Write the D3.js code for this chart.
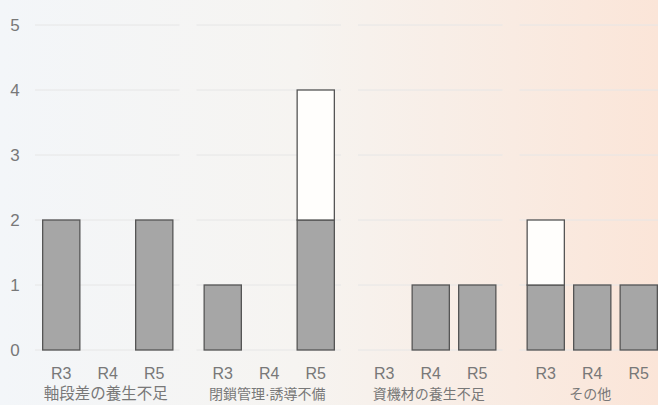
<!DOCTYPE html>
<html>
<head>
<meta charset="utf-8">
<script src="https://cdn.jsdelivr.net/npm/d3@7"></script>
<style>
    html, body { margin: 0; padding: 0; overflow: hidden; }
    text { font-family: "Liberation Sans", Arial, "Noto Sans CJK JP", sans-serif; fill: #787878; }
</style>
</head>
<body>
<svg id="chart" width="658" height="405"></svg>
<script>
// categories and years
const categories = ["軸段差の養生不足", "閉鎖管理·誘導不備", "資機材の養生不足", "その他"];
const years = ["R3", "R4", "R5"];
const yTicks = [0, 1, 2, 3, 4, 5];

// lower (gray) and upper (white) stacks, per category, per year
const grayValues = [
    [2, 0, 2],
    [1, 0, 2],
    [0, 1, 1],
    [1, 1, 1]
];
const whiteValues = [
    [0, 0, 0],
    [0, 0, 2],
    [0, 0, 0],
    [1, 0, 0]
];

const width = 658, height = 405;
const svg = d3.select("#chart");

// background gradient
const defs = svg.append("defs");
const grad = defs.append("linearGradient").attr("id", "bg")
    .attr("x1", "0%").attr("x2", "100%").attr("y1", "0%").attr("y2", "0%");
grad.append("stop").attr("offset", "0%").attr("stop-color", "#f3f6f9");
grad.append("stop").attr("offset", "45%").attr("stop-color", "#f6f4f1");
grad.append("stop").attr("offset", "100%").attr("stop-color", "#fbe5d8");
svg.append("rect").attr("width", width).attr("height", height).attr("fill", "url(#bg)");

// scales
const y = d3.scaleLinear().domain([0, 5]).range([350, 25]);

const xPanel = d3.scaleBand()
    .domain(categories)
    .range([38, 38 + 3 * 161.5 + 139.5])
    .paddingInner(22 / 161.5)
    .paddingOuter(0);

const xYear = d3.scaleBand()
    .domain(years)
    .range([0, xPanel.bandwidth()])
    .paddingInner(0.2)
    .paddingOuter(0.1);

// y tick labels
svg.append("g").selectAll("text")
    .data(yTicks)
    .join("text")
    .attr("x", 15)
    .attr("y", d => y(d))
    .attr("dy", "0.36em")
    .attr("text-anchor", "middle")
    .style("font-size", "17px")
    .text(d => d);

const panel = svg.selectAll("g.panel")
    .data(categories)
    .join("g")
    .attr("class", "panel")
    .attr("transform", d => `translate(${xPanel(d)},0)`);

// gridlines
panel.selectAll("line")
    .data(yTicks)
    .join("line")
    .attr("x1", -3)
    .attr("x2", xPanel.bandwidth() + 2)
    .attr("y1", d => y(d))
    .attr("y2", d => y(d))
    .attr("stroke", "#e6e6e6")
    .attr("stroke-width", 1);

// bars: gray segment then white segment on top
panel.each(function (cat, i) {
    const g = d3.select(this);
    const rows = years.map((yr, j) => ({ yr, gray: grayValues[i][j], white: whiteValues[i][j] }));

    g.selectAll("rect.gray")
        .data(rows.filter(r => r.gray > 0))
        .join("rect")
        .attr("class", "gray")
        .attr("x", r => xYear(r.yr))
        .attr("y", r => y(r.gray))
        .attr("width", xYear.bandwidth())
        .attr("height", r => y(0) - y(r.gray))
        .attr("fill", "#a6a6a6")
        .attr("stroke", "#555")
        .attr("stroke-width", 1.3);

    g.selectAll("rect.white")
        .data(rows.filter(r => r.white > 0))
        .join("rect")
        .attr("class", "white")
        .attr("x", r => xYear(r.yr))
        .attr("y", r => y(r.gray + r.white))
        .attr("width", xYear.bandwidth())
        .attr("height", r => y(r.gray) - y(r.gray + r.white))
        .attr("fill", "#fffefc")
        .attr("stroke", "#555")
        .attr("stroke-width", 1.3);

    // year labels
    g.selectAll("text.yr")
        .data(years)
        .join("text")
        .attr("class", "yr")
        .attr("x", d => xYear(d) + xYear.bandwidth() / 2)
        .attr("y", 379)
        .attr("text-anchor", "middle")
        .style("font-size", "16px")
        .text(d => d);

    // category label
    g.append("text")
        .attr("x", xPanel.bandwidth() / 2 - 2)
        .attr("y", 399)
        .attr("text-anchor", "middle")
        .style("font-size", i === 0 ? "15.5px" : "14px")
        .text(cat);
});
</script>
</body>
</html>
